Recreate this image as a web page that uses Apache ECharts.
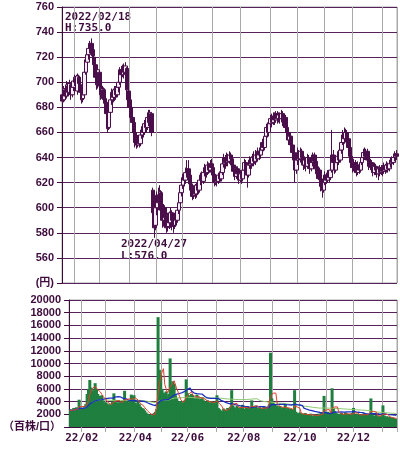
<!DOCTYPE html>
<html><head><meta charset="utf-8">
<script src="https://cdn.jsdelivr.net/npm/echarts@6/dist/echarts.min.js"></script>
<style>html,body{margin:0;padding:0;background:#fff}#c{width:400px;height:449px}</style>
</head><body><div id="c"></div>
<script>
// ---- Trading calendar (TSE) ----
const holidays = ['2022-01-10','2022-02-11','2022-02-23','2022-03-21','2022-04-29','2022-05-03','2022-05-04','2022-05-05',
  '2022-07-18','2022-08-11','2022-09-19','2022-09-23','2022-10-10','2022-11-03','2022-11-23','2023-01-02','2023-01-03','2023-01-09'];
const firstDay = '2022-01-19', lastDay = '2023-01-19';

// ---- Daily prices [open, close, low, high] by month ----
const ohlcJan22 = [[690,685,682,693],[686,695,684,697],[694,689,686,697],[689,698,687,701],[697,692,689,700],[692,699,690,702],[698,690,686,700],[690,696,688,698],[696,701,693,703]];
const ohlcFeb22 = [[700,704,697,706],[703,698,695,706],[693,705,690,707],[704,699,696,706],[698,692,689,700],[692,686,683,694],[687,690,684,696],[690,708,688,710],[708,718,706,721],[716,722,712,725],[722,727,718,730],[727,731,723,733],[731,726,722,735],[726,721,716,728],[720,714,710,724],[714,704,700,716],[704,698,694,709],[699,710,695,712]];
const ohlcMar22 = [[708,697,692,710],[697,690,686,699],[690,695,686,697],[694,687,683,696],[687,684,680,690],[684,675,670,686],[675,663,660,677],[664,676,662,678],[676,686,674,689],[686,692,682,695],[692,688,684,695],[688,694,685,697],[694,690,686,697],[690,696,688,699],[696,700,692,702],[700,710,698,712],[710,706,702,713],[706,712,704,714],[712,708,703,715],[708,713,705,716],[711,694,690,712],[693,686,682,695]];
const ohlcApr22 = [[686,680,676,688],[680,672,668,682],[672,668,664,675],[668,660,656,670],[660,652,648,662],[652,650,647,656],[650,655,648,658],[655,651,648,658],[651,658,649,661],[658,662,655,665],[662,660,656,665],[660,667,658,670],[667,664,660,671],[664,672,662,676],[672,668,665,678],[669,676,666,678],[675,660,657,676],[614,596,590,616],[598,584,576,606],[586,600,582,603]];
const ohlcMay22 = [[600,610,594,613],[610,604,598,616],[604,613,600,618],[612,598,592,614],[598,590,584,600],[590,600,585,603],[600,592,586,602],[591,584,580,594],[585,594,581,596],[594,588,583,597],[588,596,584,600],[596,590,582,598],[590,585,580,592],[586,593,583,596],[593,590,585,596],[590,598,588,600],[598,604,595,607],[604,612,602,614],[612,618,609,621]];
const ohlcJun22 = [[618,624,615,627],[624,622,617,628],[622,628,619,632],[628,631,624,638],[631,626,621,638],[626,619,615,629],[619,614,610,621],[614,609,606,617],[610,616,607,618],[616,611,607,619],[611,618,608,620],[618,614,610,622],[614,622,612,625],[622,626,618,628],[626,621,617,629],[621,628,619,631],[628,632,625,635],[632,628,624,634],[628,634,626,637],[634,630,627,636],[630,635,628,638],[635,632,628,639]];
const ohlcJul22 = [[632,626,622,634],[626,620,617,628],[620,624,618,627],[624,621,617,626],[621,626,619,628],[626,623,620,629],[623,628,621,631],[628,635,626,637],[635,640,632,643],[640,636,631,642],[636,641,633,644],[641,637,633,643],[637,642,635,645],[642,639,634,644],[639,634,630,641],[634,629,625,636],[629,625,622,632],[625,631,623,633],[631,627,622,633],[627,622,619,630]];
const ohlcAug22 = [[622,627,620,630],[627,623,619,629],[623,630,621,632],[630,636,628,639],[636,630,626,638],[630,626,616,632],[626,634,624,637],[634,638,631,641],[638,635,631,641],[635,640,633,643],[640,637,633,645],[637,642,634,646],[642,639,636,645],[639,645,637,648],[645,642,638,648],[642,646,639,650],[646,652,644,655],[652,648,645,656],[648,657,646,660],[657,664,654,667],[664,660,656,668],[660,667,658,670]];
const ohlcSep22 = [[667,671,664,674],[671,668,664,675],[668,673,666,676],[673,670,666,676],[670,675,668,677],[675,671,667,677],[671,674,668,676],[674,671,667,676],[671,675,668,678],[675,669,665,677],[669,672,664,675],[672,664,660,674],[664,660,655,666],[660,654,650,662],[654,657,650,660],[657,650,646,659],[650,644,640,652],[644,638,633,646],[638,630,620,640],[630,638,627,641]];
const ohlcOct22 = [[638,644,634,648],[644,639,635,646],[639,645,636,648],[645,640,636,647],[640,634,630,642],[634,638,631,641],[638,633,629,640],[633,640,631,643],[640,635,632,642],[635,631,627,637],[631,636,629,638],[636,642,633,644],[642,637,633,644],[637,631,628,639],[631,627,623,633],[627,630,622,633],[630,623,619,632],[623,617,613,625],[617,614,608,620],[614,620,612,623]];
const ohlcNov22 = [[620,626,618,629],[626,622,619,628],[622,627,620,630],[627,624,620,630],[624,630,622,633],[630,642,628,662],[642,636,632,646],[636,630,627,639],[630,636,628,640],[636,641,633,645],[641,638,634,645],[638,646,636,650],[646,652,643,655],[652,658,650,662],[658,655,651,664],[655,660,652,663],[660,655,651,662],[655,648,644,657],[648,641,637,650],[641,636,632,643]];
const ohlcDec22 = [[636,632,628,638],[632,636,629,639],[636,631,628,638],[631,628,625,634],[628,634,626,637],[634,630,627,636],[630,636,628,639],[636,640,634,643],[640,644,637,647],[644,641,638,648],[641,645,639,647],[645,638,636,647],[638,633,630,640],[633,636,630,639],[636,632,629,638],[632,628,625,635],[628,633,626,636],[633,630,626,635],[630,627,624,633],[627,631,622,633],[631,628,625,634],[628,632,626,634]];
const ohlcJan23 = [[632,629,625,634],[629,633,627,636],[633,630,627,635],[630,634,628,637],[634,631,628,636],[631,635,629,638],[635,638,632,640],[638,636,633,641],[636,640,634,642],[640,643,637,645],[643,641,638,646]];

// ---- Daily volume (百株) by month ----
const volJan22 = [2600,2800,2500,3000,2700,3100,2900,4300,2800];
const volFeb22 = [3000,2700,3300,3600,5200,6000,7400,6200,5600,5800,6900,5900,5200,4600,4900,5000,4200,3800];
const volMar22 = [3900,3700,3400,3600,3300,4000,5300,4200,3800,3900,3600,4000,3700,4100,5700,4400,4000,3800,4200,5100,4800,5000];
const volApr22 = [3800,3500,4200,3600,3200,3000,2900,2600,2300,2100,1800,2000,1700,1900,2200,2400,2800,17300,9000,8200];
const volMay22 = [6000,5400,5000,5600,4800,5200,10800,6400,7200,6800,5000,4500,4000,3800,4100,3600,3900,4200,7500];
const volJun22 = [5300,5000,4700,5200,4900,4600,4400,5100,4800,4300,4500,4700,4200,4000,3800,4200,3900,3700,4100,3800,3600,4000];
const volJul22 = [5000,3000,2800,2600,2400,2900,2700,2500,3000,2800,3200,5800,3400,3100,2900,3300,3000,2800,3200,3500];
const volAug22 = [2900,2700,3100,3300,2800,3000,4200,3200,2900,3400,3000,2800,3100,2700,2900,3300,3000,2600,3200,3500,11700,4500];
const volSep22 = [3800,3500,3200,3400,3000,3300,2800,3100,2900,3500,2700,3000,2600,2900,2500,2800,5800,2400,2200,2000];
const volOct22 = [2300,1900,2100,1800,2200,2000,1700,1900,2100,1800,1600,2000,1900,1700,2100,1800,2200,2000,4900,2300];
const volNov22 = [2100,2400,2000,2200,6100,3000,2500,2200,2000,2100,1900,2200,1800,2000,2300,2100,1900,2000,1800,2200];
const volDec22 = [3000,2000,1800,2100,1900,1700,2000,1800,2200,1900,1700,2100,1900,4500,2000,1800,1600,1900,1700,1500,1800,1600];
const volJan23 = [3400,1800,1500,1700,1400,1600,1300,1500,1400,1200,1300];

// ---- Annotation texts ----
const highText = ['2022/02/18', 'H:735.0'];
const lowText = ['2022/04/27', 'L:576.0'];

// ---- build ----
function buildDays() {
  const out = [];
  let t = Date.parse(firstDay + 'T00:00:00Z');
  const end = Date.parse(lastDay + 'T00:00:00Z');
  while (t <= end) {
    const d = new Date(t);
    const w = d.getUTCDay();
    const s = d.toISOString().slice(0, 10);
    if (w !== 0 && w !== 6 && holidays.indexOf(s) < 0) out.push(s.replace(/-/g, '/'));
    t += 86400000;
  }
  return out;
}
const days = buildDays();
const ohlc = [].concat(ohlcJan22, ohlcFeb22, ohlcMar22, ohlcApr22, ohlcMay22, ohlcJun22, ohlcJul22, ohlcAug22, ohlcSep22, ohlcOct22, ohlcNov22, ohlcDec22, ohlcJan23);
const vol = [].concat(volJan22, volFeb22, volMar22, volApr22, volMay22, volJun22, volJul22, volAug22, volSep22, volOct22, volNov22, volDec22, volJan23);
const monthStart = new Set();
for (let i = 1; i < days.length; i++) if (days[i].slice(5, 7) !== days[i - 1].slice(5, 7)) monthStart.add(i);

function ma(arr, n) {
  return arr.map((v, i) => {
    const s = Math.max(0, i - n + 1);
    let sum = 0;
    for (let k = s; k <= i; k++) sum += arr[k];
    return Math.round(sum / (i - s + 1));
  });
}

const PURPLE = '#3d0c3d';
const GRIDH = '#55235a';
const GRIDV = '#a8a8a8';
const MONO = '"DejaVu Sans Mono", "Noto Sans CJK JP", monospace';
const SANS = '"Liberation Sans", "Noto Sans CJK JP", sans-serif';

function xAxis(g) {
  return {
    type: 'category', data: days, gridIndex: g, boundaryGap: true,
    axisLine: { show: g === 1, lineStyle: { color: PURPLE } },
    axisTick: { show: g === 1, interval: (i) => monthStart.has(i), length: 5, lineStyle: { color: GRIDV } },
    axisLabel: {
      show: g === 1, interval: (i, v) => monthStart.has(i) && (+v.slice(5, 7)) % 2 === 0,
      formatter: v => v.slice(2, 4) + '/' + v.slice(5, 7),
      color: PURPLE, fontFamily: MONO, fontWeight: 'bold', fontSize: 11, margin: 6
    },
    splitLine: { show: true, interval: (i) => monthStart.has(i), lineStyle: { color: GRIDV, width: 1 } }
  };
}

const chart = echarts.init(document.getElementById('c'));
chart.setOption({
  animation: false,
  backgroundColor: '#ffffff',
  grid: [
    { left: 62, right: 3, top: 7, height: 276, show: true, borderColor: GRIDV, borderWidth: 1 },
    { left: 62, right: 3, top: 300, height: 127, show: true, borderColor: GRIDV, borderWidth: 1 }
  ],
  xAxis: [xAxis(0), xAxis(1)],
  yAxis: [
    {
      type: 'value', gridIndex: 0, min: 540, max: 760, interval: 20,
      axisLine: { show: true, lineStyle: { color: PURPLE } },
      axisTick: { show: true, length: 5, lineStyle: { color: PURPLE } },
      axisLabel: { color: PURPLE, fontFamily: SANS, fontWeight: 'bold', fontSize: 11, margin: 8,
        formatter: v => v === 540 ? '(円)' : String(v) },
      splitLine: { show: true, lineStyle: { color: GRIDH, width: 1 } }
    },
    {
      type: 'value', gridIndex: 1, min: 0, max: 20000, interval: 2000,
      axisLine: { show: true, lineStyle: { color: PURPLE } },
      axisTick: { show: true, length: 5, lineStyle: { color: PURPLE } },
      axisLabel: { color: PURPLE, fontFamily: SANS, fontWeight: 'bold', fontSize: 11, margin: 8,
        formatter: v => v === 0 ? '（百株/口）' : String(v) },
      splitLine: { show: true, lineStyle: { color: GRIDH, width: 1 } }
    }
  ],
  series: [
    {
      type: 'candlestick', xAxisIndex: 0, yAxisIndex: 0, data: ohlc, barWidth: 4,
      itemStyle: { color: '#f4ecf4', color0: '#4a0f4a', borderColor: '#4a0f4a', borderColor0: '#4a0f4a', borderWidth: 1 }
    },
    {
      type: 'bar', xAxisIndex: 1, yAxisIndex: 1, data: vol, barWidth: 3,
      itemStyle: { color: '#1f7f3f' }
    },
    { type: 'line', xAxisIndex: 1, yAxisIndex: 1, data: ma(vol, 75), symbol: 'none', lineStyle: { color: '#8cc870', width: 1 } },
    { type: 'line', xAxisIndex: 1, yAxisIndex: 1, data: ma(vol, 25), symbol: 'none', lineStyle: { color: '#1a2fc0', width: 1.3 } },
    { type: 'line', xAxisIndex: 1, yAxisIndex: 1, data: ma(vol, 5), symbol: 'none', lineStyle: { color: '#e0402a', width: 1 } }
  ],
  graphic: [
    { type: 'text', left: 65, top: 12, style: { text: highText.join('\n'), fill: PURPLE, font: 'bold 11px ' + MONO, lineHeight: 11 } },
    { type: 'text', left: 121, top: 238, style: { text: lowText.join('\n'), fill: PURPLE, font: 'bold 11px ' + MONO, lineHeight: 12 } }
  ]
});
</script>
</body></html>
